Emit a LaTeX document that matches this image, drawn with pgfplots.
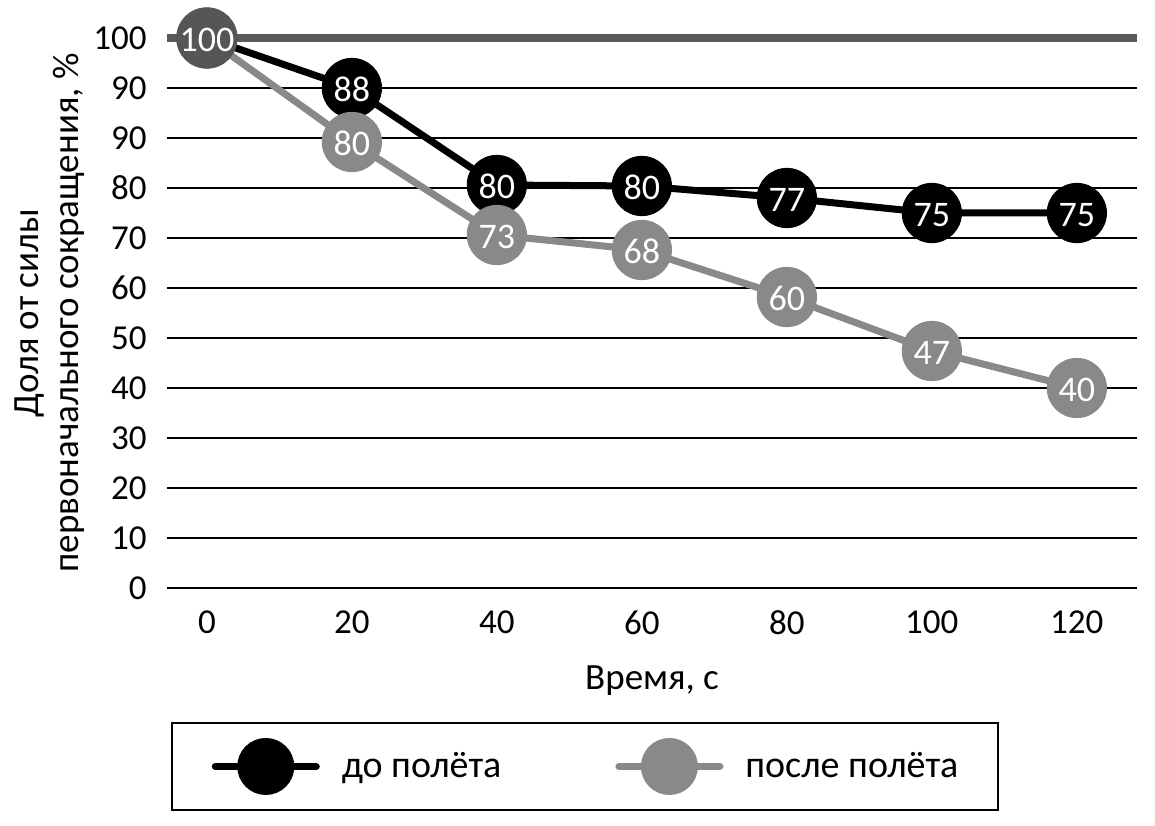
\documentclass[border=0pt]{standalone}
\usepackage{fontspec}
\setmainfont{Carlito}
\usepackage{pgfplots}
\pgfplotsset{compat=1.18}
\definecolor{grayS}{HTML}{898989}
\definecolor{topline}{HTML}{5A5A5A}
\definecolor{firstm}{HTML}{565656}
\begin{document}
\begin{tikzpicture}[x=1pt,y=1pt]
\path[use as bounding box] (0,0) rectangle (577.5,412.5);
\begin{axis}[
  at={(83.5pt,118.5pt)}, anchor=south west,
  scale only axis, width=485pt, height=275pt,
  xmin=-5.5, xmax=128.3, ymin=0, ymax=110,
  clip=false,
  axis line style={draw=none},
  major tick length=0pt,
  xtick={0,20,40,60,80,100,120},
  ytick={0,10,20,30,40,50,60,70,80,90,100},
  yticklabels={0,10,20,30,40,50,60,70,80,90,90},
  extra y ticks={110},
  extra y tick labels={100},
  extra y tick style={grid style={topline, line width=4pt}},
  ymajorgrids,
  grid style={black, line width=1pt},
  /pgf/number format/assume math mode=true,
  tick label style={font=\fontsize{17.5}{17.5}\selectfont, inner sep=0pt},
  yticklabel style={anchor=east, xshift=-10pt},
  xticklabel style={anchor=north, yshift=-11pt},
  xlabel={Время, с},
  xlabel style={at={(axis description cs:0.5,0)}, anchor=north, inner sep=0pt, yshift=-38.5pt, font=\fontsize{18.5}{20}\selectfont},
  ylabel={Доля от силы\\первоначального сокращения, \%},
  ylabel style={at={(axis description cs:-0.1206,0.5)}, anchor=center, rotate=0, align=center, inner sep=0pt, font=\fontsize{18.5}{20}\selectfont},
  legend columns=2,
  legend style={at={(axis description cs:0.431,-0.3245)}, anchor=center,
    draw=black, line width=1pt, inner xsep=20pt, inner ysep=7.5pt,
    column sep=11pt,
    nodes={inner sep=0pt, font=\fontsize{19}{20}\selectfont},
    /tikz/every even column/.append style={column sep=57pt}},
  legend cell align=left,
]
\addplot[black, line width=3.5pt, mark=*, mark size=14.8pt,
  mark options={solid, fill=black, draw=black, line width=0.5pt},
  nodes near coords, point meta=explicit symbolic,
  every node near coord/.style={anchor=center, yshift=-0.8pt, text=white, inner sep=0pt, font=\fontsize{18}{18}\selectfont},
  legend image code/.code={\draw[black, line width=3.5pt, line cap=round] (1.75pt,0pt) -- (52.25pt,0pt); \fill[black] (27pt,0pt) circle (12.5pt);}]
  coordinates {(0,110)[100] (20,100)[88] (40,80.6)[80] (60,80.4)[80] (80,78)[77] (100,75)[75] (120,75)[75]};
\addlegendentry{до полёта}
\addplot[grayS, line width=3.5pt, mark=*, mark size=14.8pt,
  mark options={solid, fill=grayS, draw=grayS, line width=0.5pt},
  nodes near coords, point meta=explicit symbolic,
  every node near coord/.style={anchor=center, yshift=-0.8pt, text=white, inner sep=0pt, font=\fontsize{18}{18}\selectfont},
  legend image code/.code={\draw[grayS, line width=3.5pt, line cap=round] (1.75pt,0pt) -- (52.25pt,0pt); \fill[grayS] (27pt,0pt) circle (12.5pt);}]
  coordinates {(0,110)[100] (20,89.2)[80] (40,70.6)[73] (60,67.6)[68] (80,58.2)[60] (100,47.4)[47] (120,40)[40]};
\addlegendentry{после полёта}
\addplot[forget plot, only marks, mark=*, mark size=15.1pt,
  mark options={fill=firstm, draw=firstm, line width=0.5pt},
  nodes near coords, point meta=explicit symbolic,
  every node near coord/.style={anchor=center, yshift=-0.8pt, text=white, inner sep=0pt, font=\fontsize{18}{18}\selectfont}]
  coordinates {(0,110)[100]};
\end{axis}
\end{tikzpicture}
\end{document}
